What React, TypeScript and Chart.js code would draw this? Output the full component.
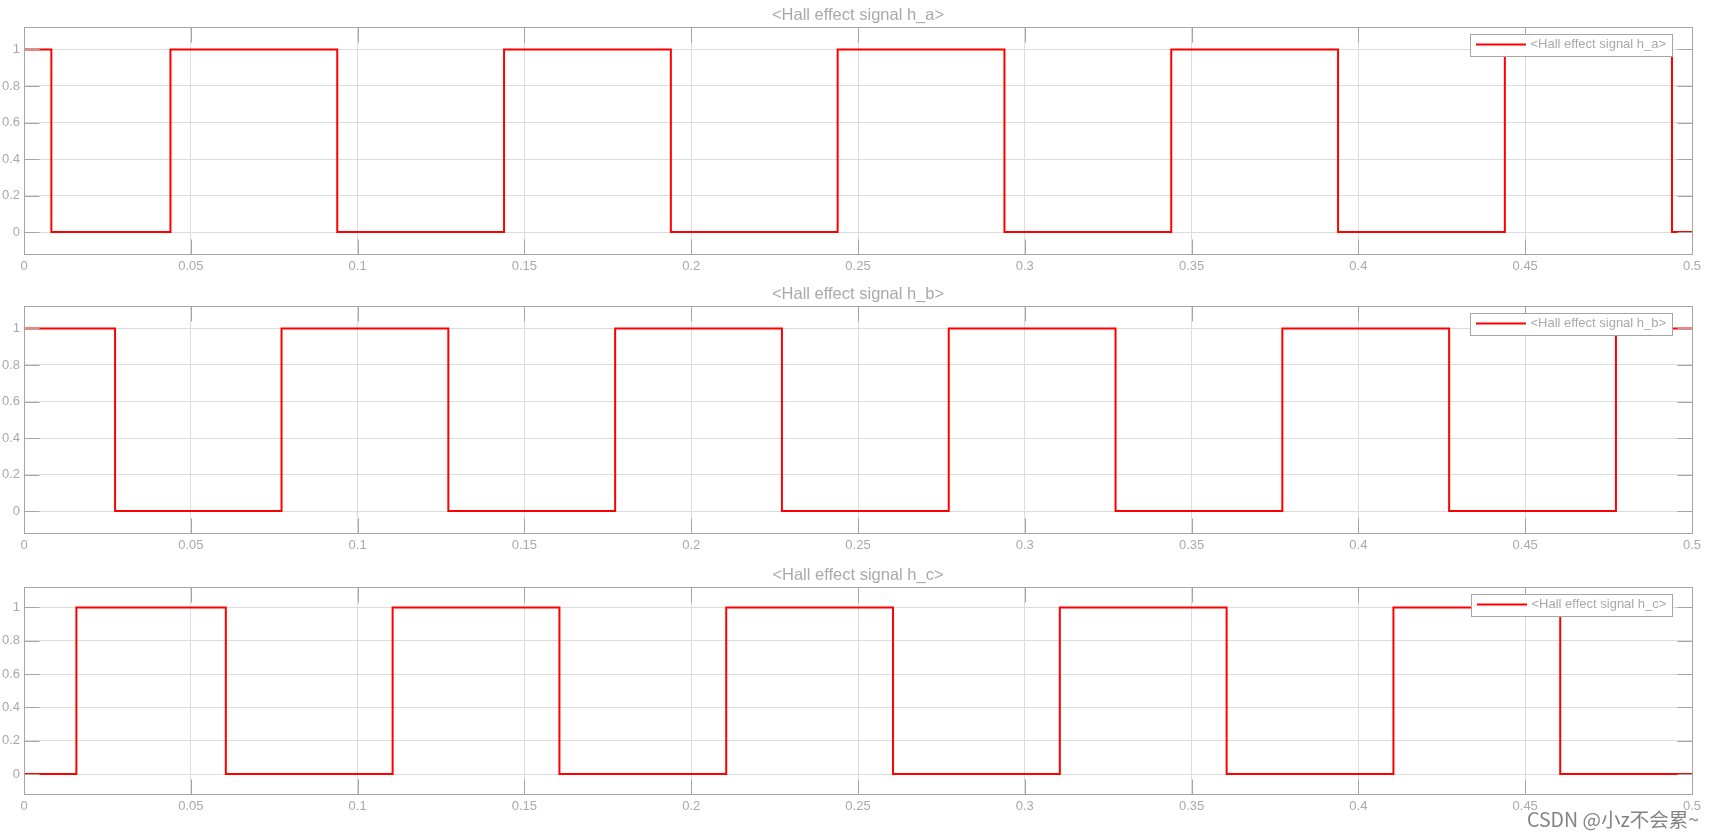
import React, { useEffect, useRef } from 'react';
import { Chart, registerables } from 'chart.js';

Chart.register(...registerables);

// ---- data ----
const xTicks = [0, 0.05, 0.1, 0.15, 0.2, 0.25, 0.3, 0.35, 0.4, 0.45, 0.5];
const yTicks = [0, 0.2, 0.4, 0.6, 0.8, 1];

const haTimes = [0, 0.0082, 0.0439, 0.0939, 0.1439, 0.1939, 0.2439, 0.2939, 0.3439, 0.3939, 0.4439, 0.494, 0.5];
const haValues = [1, 0, 1, 0, 1, 0, 1, 0, 1, 0, 1, 0, 0];

const hbTimes = [0, 0.0273, 0.0772, 0.1272, 0.1772, 0.2272, 0.2772, 0.3272, 0.3772, 0.4272, 0.4772, 0.5];
const hbValues = [1, 0, 1, 0, 1, 0, 1, 0, 1, 0, 1, 1];

const hcTimes = [0, 0.0157, 0.0605, 0.1105, 0.1605, 0.2105, 0.2605, 0.3105, 0.3605, 0.4105, 0.4605, 0.5];
const hcValues = [0, 1, 0, 1, 0, 1, 0, 1, 0, 1, 0, 0];

const titles = ['<Hall effect signal h_a>', '<Hall effect signal h_b>', '<Hall effect signal h_c>'];
const watermark = 'CSDN @小z不会累~';

// ---- styling / layout ----
const FONT = '"Liberation Sans", Arial, Helvetica, sans-serif';
const TEXT = '#a9a9a9';
const FRAME = '#a5a5a5';
const GRID = '#dcdcdc';
const RED = '#ff0000';
const TICK_LEN = 15;

const panels = [
  { top: 0, height: 280, times: haTimes, values: haValues, title: titles[0] },
  { top: 279, height: 280, times: hbTimes, values: hbValues, title: titles[1] },
  { top: 560, height: 260, times: hcTimes, values: hcValues, title: titles[2] },
];

const framePlugin = {
  id: 'matlabFrame',
  afterDatasetsDraw(chart: any) {
    const { ctx, chartArea } = chart;
    const { left, right, top, bottom } = chartArea;
    const xs = chart.scales.x;
    const ys = chart.scales.y;
    const L = Math.round(left) + 0.5;
    const R = Math.round(right) + 0.5;
    const T = Math.round(top) + 0.5;
    const B = Math.round(bottom) + 0.5;
    ctx.save();
    ctx.strokeStyle = FRAME;
    ctx.lineWidth = 1;
    ctx.beginPath();
    for (const t of xTicks) {
      const px = Math.round(xs.getPixelForValue(t)) + 0.5;
      ctx.moveTo(px, T);
      ctx.lineTo(px, T + TICK_LEN);
      ctx.moveTo(px, B);
      ctx.lineTo(px, B - TICK_LEN);
    }
    for (const v of yTicks) {
      const py = Math.round(ys.getPixelForValue(v)) + 0.5;
      ctx.moveTo(L, py);
      ctx.lineTo(L + TICK_LEN, py);
      ctx.moveTo(R, py);
      ctx.lineTo(R - TICK_LEN, py);
    }
    ctx.stroke();
    ctx.strokeRect(L, T, R - L, B - T);
    ctx.restore();
  },
  afterDraw(chart: any) {
    const { ctx, chartArea } = chart;
    const ds = chart.data.datasets[0];
    const label = ds.label as string;
    ctx.save();
    ctx.font = `13px ${FONT}`;
    const tw = ctx.measureText(label).width;
    const w = Math.round(5.5 + 50 + 4.5 + tw + 6.5);
    const h = 22;
    const bx = Math.round(chartArea.right - 20 - w) + 0.5;
    const by = Math.round(chartArea.top + 7) + 0.5;
    ctx.fillStyle = '#ffffff';
    ctx.fillRect(bx, by, w, h);
    ctx.strokeStyle = FRAME;
    ctx.lineWidth = 1;
    ctx.strokeRect(bx, by, w, h);
    const cy = by + 10;
    ctx.strokeStyle = ds.borderColor;
    ctx.lineWidth = 2;
    ctx.beginPath();
    ctx.moveTo(bx + 5.5, cy);
    ctx.lineTo(bx + 55.5, cy);
    ctx.stroke();
    ctx.fillStyle = TEXT;
    ctx.textBaseline = 'middle';
    ctx.textAlign = 'left';
    ctx.fillText(label, bx + 60, cy);
    ctx.restore();
  },
};

function fmt(v: number) {
  return String(Math.round(v * 1000) / 1000);
}

function Panel({ top, height, times, values, title }: any) {
  const ref = useRef<HTMLCanvasElement | null>(null);
  useEffect(() => {
    if (!ref.current) return;
    const chart = new Chart(ref.current, {
      type: 'line',
      data: {
        datasets: [
          {
            label: title,
            data: times.map((t: number, i: number) => ({ x: t, y: values[i] })),
            borderColor: RED,
            backgroundColor: RED,
            borderWidth: 2,
            pointRadius: 0,
            stepped: 'before',
            fill: false,
          },
        ],
      },
      options: {
        animation: false,
        responsive: false,
        maintainAspectRatio: false,
        events: [],
        layout: { padding: { left: 0, right: 22, top: 0, bottom: 0 } },
        plugins: {
          legend: { display: false },
          tooltip: { enabled: false },
          title: {
            display: true,
            text: title,
            fullSize: false,
            color: TEXT,
            font: { family: FONT, size: 16.5, weight: 'normal', lineHeight: 1.2 },
            padding: { top: 5.5, bottom: 1.7 },
          },
        },
        scales: {
          x: {
            type: 'linear',
            min: 0,
            max: 0.5,
            afterBuildTicks: (s: any) => {
              s.ticks = xTicks.map((v) => ({ value: v }));
            },
            afterFit: (s: any) => {
              s.height = 26;
            },
            ticks: {
              color: TEXT,
              font: { family: FONT, size: 13 },
              padding: 5,
              maxRotation: 0,
              autoSkip: false,
              callback: (v: any) => fmt(Number(v)),
            },
            grid: { color: GRID, lineWidth: 1, drawTicks: false },
            border: { display: false },
          },
          y: {
            type: 'linear',
            min: -0.12,
            max: 1.123,
            afterBuildTicks: (s: any) => {
              s.ticks = yTicks.map((v) => ({ value: v }));
            },
            afterFit: (s: any) => {
              s.width = 24;
            },
            ticks: {
              color: TEXT,
              font: { family: FONT, size: 13 },
              padding: 4,
              autoSkip: false,
              callback: (v: any) => fmt(Number(v)),
            },
            grid: { color: GRID, lineWidth: 1, drawTicks: false },
            border: { display: false },
          },
        },
      },
      plugins: [framePlugin],
    } as any);
    return () => chart.destroy();
  }, [top, height, times, values, title]);
  return (
    <canvas
      ref={ref}
      width={1714}
      height={height}
      style={{ position: 'absolute', left: 0, top, width: 1714, height }}
    />
  );
}

export default function App() {
  return (
    <div style={{ position: 'absolute', left: 0, top: 0, width: 1714, height: 838, background: '#ffffff', overflow: 'hidden' }}>
      {panels.map((p, i) => (
        <Panel key={i} {...p} />
      ))}
      <div
        style={{
          position: 'absolute',
          right: 15,
          top: 805,
          fontFamily: '"Noto Sans CJK SC", "Noto Sans", sans-serif',
          fontSize: 19.5,
          lineHeight: '28px',
          color: 'rgba(100,100,100,0.8)',
          whiteSpace: 'nowrap',
        }}
      >
        {watermark}
      </div>
    </div>
  );
}
